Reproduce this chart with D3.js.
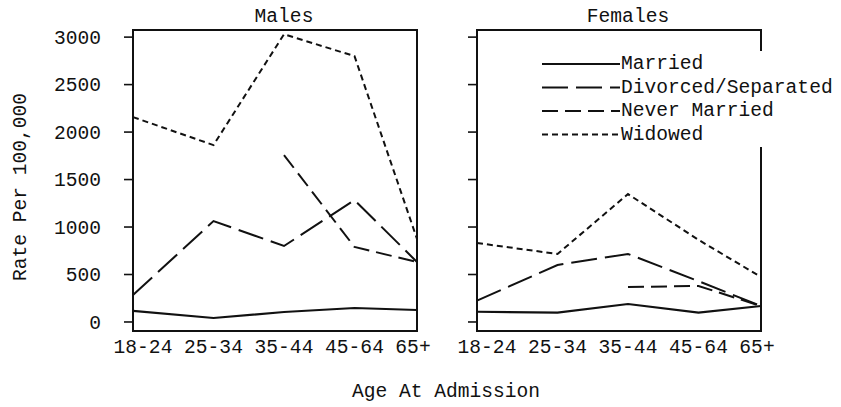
<!DOCTYPE html>
<html>
<head>
<meta charset="utf-8">
<script src="https://cdn.jsdelivr.net/npm/d3@7"></script>
<style>
  body { margin: 0; background: #fff; }
  text { font-family: "Liberation Mono", "DejaVu Sans Mono", monospace; font-size: 19.6px; fill: #111; }
</style>
</head>
<body>
<div id="chart"></div>
<script>
// Rates per 100,000 by age at admission and marital status

var ages = ["18-24", "25-34", "35-44", "45-64", "65+"];
var statuses = ["Married", "Divorced/Separated", "Never Married", "Widowed"];
var yTicks = [0, 500, 1000, 1500, 2000, 2500, 3000];

// Males
var maleMarried  = [116, 42, 105, 147, 126];
var maleDivorced = [284, 1063, 800, 1284, 632];
var maleNever    = [null, null, 1758, 790, 632];
var maleWidowed  = [2158, 1863, 3030, 2800, 875];

// Females
var femaleMarried  = [108, 98, 189, 98, 168];
var femaleDivorced = [224, 600, 716, 430, 168];
var femaleNever    = [null, null, 368, 379, 168];
var femaleWidowed  = [832, 716, 1347, 865, 474];

var panels = [
  {title: "Males",   x0: 133, series: [maleMarried, maleDivorced, maleNever, maleWidowed], labels: true},
  {title: "Females", x0: 477, series: [femaleMarried, femaleDivorced, femaleNever, femaleWidowed], labels: false}
];

var dashes = [null, "26,8", "16,7", "6,4"];

var width = 841, height = 407;
var plotTop = 30, plotBottom = 331;
var panelW = 284;

var svg = d3.select("#chart").append("svg")
    .attr("width", width)
    .attr("height", height);

var yScale = d3.scaleLinear()
    .domain([-95, 3075])
    .range([plotBottom, plotTop]);

panels.forEach(function(p) {
  var x0 = p.x0, x1 = p.x0 + panelW;
  var g = svg.append("g");

  // category positions (labels sit a bit to the right, ends snap to the frame)
  var xScale = d3.scalePoint()
      .domain(ages)
      .range([x0 + 10, x0 + 292]);

  function xLine(i) {
    if (i === 0) return x0;
    return Math.min(xScale(ages[i]), x1);
  }

  // frame
  g.append("rect")
    .attr("x", x0).attr("y", plotTop)
    .attr("width", panelW).attr("height", plotBottom - plotTop)
    .attr("fill", "none")
    .attr("stroke", "#111")
    .attr("stroke-width", 2);

  // y ticks
  g.selectAll(".ytick")
    .data(yTicks)
    .enter().append("line")
      .attr("x1", x0 - 9).attr("x2", x0)
      .attr("y1", function(d) { return yScale(d); })
      .attr("y2", function(d) { return yScale(d); })
      .attr("stroke", "#111")
      .attr("stroke-width", 1.6);

  if (p.labels) {
    g.selectAll(".ylab")
      .data(yTicks)
      .enter().append("text")
        .attr("x", 101)
        .attr("y", function(d) { return yScale(d); })
        .attr("dy", "0.35em")
        .attr("text-anchor", "end")
        .text(function(d) { return d; });
  }

  // x labels
  g.selectAll(".xlab")
    .data(ages)
    .enter().append("text")
      .attr("x", function(d) { return Math.min(xScale(d), x1 - 4); })
      .attr("y", 353)
      .attr("text-anchor", "middle")
      .text(function(d) { return d; });

  // panel title
  g.append("text")
    .attr("x", (xScale.range()[0] + xScale.range()[1]) / 2)
    .attr("y", 22)
    .attr("text-anchor", "middle")
    .text(p.title);

  var line = d3.line()
      .defined(function(d) { return d.v != null; })
      .x(function(d) { return xLine(d.i); })
      .y(function(d) { return yScale(d.v); });

  p.series.forEach(function(vals, k) {
    var pts = vals.map(function(v, i) { return {i: i, v: v}; });
    g.append("path")
      .datum(pts)
      .attr("d", line)
      .attr("fill", "none")
      .attr("stroke", "#111")
      .attr("stroke-width", k === 0 ? 2.2 : 2)
      .attr("stroke-dasharray", dashes[k]);
  });
});

// legend, sits over the Females frame
var legend = svg.append("g");
legend.append("rect")
  .attr("x", 536).attr("y", 51)
  .attr("width", 305).attr("height", 96)
  .attr("fill", "#fff");

statuses.forEach(function(s, i) {
  var ry = 63 + i * 23.5;
  legend.append("line")
    .attr("x1", 542).attr("x2", 620)
    .attr("y1", ry + 1).attr("y2", ry + 1)
    .attr("stroke", "#111")
    .attr("stroke-width", i === 0 ? 2.2 : 2)
    .attr("stroke-dasharray", dashes[i]);
  legend.append("text")
    .attr("x", 621)
    .attr("y", ry + 6)
    .text(s);
});

// axis titles
svg.append("text")
  .attr("transform", "translate(19,187) rotate(-90)")
  .attr("text-anchor", "middle")
  .attr("dy", "0.35em")
  .text("Rate Per 100,000");

svg.append("text")
  .attr("x", 446)
  .attr("y", 397)
  .attr("text-anchor", "middle")
  .text("Age At Admission");
</script>
</body>
</html>
